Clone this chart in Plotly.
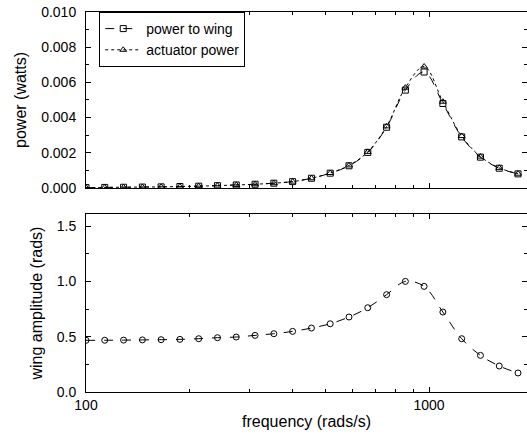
import plotly.graph_objects as go
from plotly.subplots import make_subplots

# frequencies (rads/s) where the points were measured
freq = [100, 113.4, 128.7, 146.0, 165.6, 187.8, 213.1, 241.7, 274.2, 311.1, 352.9, 400.3,
        454.2, 515.2, 584.5, 663.0, 752.2, 853.3, 967.6, 1097.7, 1245.3, 1412.5, 1602.4, 1817.8]

power_to_wing = [0.00002, 0.00003, 0.00004, 0.00005, 0.00006, 0.00008, 0.0001, 0.00013,
                 0.00017, 0.00021, 0.00027, 0.00036, 0.00055, 0.00084, 0.00126, 0.00202,
                 0.00345, 0.00556, 0.00659, 0.0048, 0.0029, 0.00175, 0.00112, 0.0008]

actuator_power = [0.00002, 0.00003, 0.00004, 0.00005, 0.00006, 0.00008, 0.0001, 0.00013,
                  0.00017, 0.00021, 0.00027, 0.00036, 0.00055, 0.00085, 0.00128, 0.00205,
                  0.0035, 0.0057, 0.0069, 0.0049, 0.00295, 0.00178, 0.00114, 0.00081]

wing_amplitude = [0.467, 0.468, 0.469, 0.471, 0.473, 0.476, 0.482, 0.491, 0.497, 0.512,
                  0.527, 0.548, 0.578, 0.617, 0.678, 0.762, 0.880, 1.000, 0.955, 0.723,
                  0.482, 0.331, 0.235, 0.172]

font = "Liberation Sans, Arial, sans-serif"

fig = make_subplots(rows=2, cols=1, shared_xaxes=False, vertical_spacing=0.07)

fig.add_trace(go.Scatter(
    name="power to wing", x=freq, y=power_to_wing, mode="lines+markers",
    line=dict(color="black", width=1, dash="dash", shape="spline"),
    marker=dict(symbol="square-open", size=6, color="black", line=dict(width=1))),
    row=1, col=1)
fig.add_trace(go.Scatter(
    name="actuator power", x=freq, y=actuator_power, mode="lines+markers",
    line=dict(color="black", width=1, dash="dot", shape="spline"),
    marker=dict(symbol="triangle-up-open", size=6, color="black", line=dict(width=1))),
    row=1, col=1)
fig.add_trace(go.Scatter(
    name="wing amplitude", x=freq, y=wing_amplitude, mode="lines+markers", showlegend=False,
    line=dict(color="black", width=1, dash="dash", shape="spline"),
    marker=dict(symbol="circle-open", size=6, color="black", line=dict(width=1))),
    row=2, col=1)

xcommon = dict(type="log", range=[2, 3.2857], showgrid=False, zeroline=False,
               showline=True, linecolor="black", linewidth=1, mirror="ticks",
               ticks="inside", ticklen=5, tickcolor="black", automargin=False,
               tickvals=[100, 1000], tickfont=dict(size=14),
               minor=dict(ticks="inside", ticklen=3, tickcolor="black",
                          tickvals=[200, 300, 400, 500, 600, 700, 800, 900, 2000]))
ycommon = dict(showgrid=False, zeroline=False, showline=True, linecolor="black", linewidth=1,
               mirror="ticks", ticks="inside", ticklen=5, tickcolor="black",
               ticklabelstandoff=6, automargin=False, tickfont=dict(size=14),
               minor=dict(ticks="inside", ticklen=3, tickcolor="black"))

fig.update_xaxes(**xcommon)
fig.update_xaxes(showticklabels=False, domain=[0, 1], row=1, col=1)
fig.update_xaxes(title=dict(text="frequency (rads/s)", standoff=4),
                 ticklabelstandoff=0, row=2, col=1)

fig.update_yaxes(**ycommon)
fig.update_yaxes(range=[0, 0.010], dtick=0.002, tickformat=".3f",
                 minor_dtick=0.001, domain=[0.537, 1],
                 title=dict(text="power (watts)", standoff=10), row=1, col=1)
fig.update_yaxes(range=[0, 1.608], dtick=0.5, tickformat=".1f",
                 minor_dtick=0.25, domain=[0, 0.468],
                 title=dict(text="wing amplitude (rads)", standoff=10), row=2, col=1)

fig.update_layout(
    width=527, height=437,
    margin=dict(l=86, r=0, t=12, b=45),
    paper_bgcolor="white", plot_bgcolor="white",
    font=dict(family=font, size=13, color="black"),
    legend=dict(x=0.03, y=1, xanchor="left", yanchor="top",
                bgcolor="white", bordercolor="black", borderwidth=1,
                font=dict(size=14), tracegroupgap=0, itemwidth=36),
)

# page body has a default 8px margin; drop it so the figure fills the window
fig.write_html("out.html", config={"displayModeBar": False},
               post_script="document.body.style.margin='0px';")
